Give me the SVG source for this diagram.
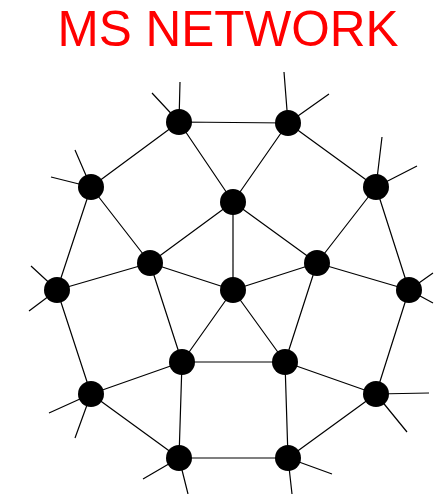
<svg xmlns="http://www.w3.org/2000/svg" width="435" height="494" viewBox="0 0 435 494">
<style>
.e{stroke:#000;stroke-width:1.2;fill:none}
.n{fill:#000}
.t{font-family:"Liberation Sans",Arial,sans-serif;font-size:49.5px;fill:#ff0000}
</style>
<rect width="435" height="494" fill="#fff"/>
<text class="t" x="228" y="46" text-anchor="middle">MS NETWORK</text>
<g id="connectors" class="e">
<path d="M179,122L288,123M179,122L91,187M179,122L233,202M288,123L233,202M288,123L376,187M91,187L150,263M91,187L57,290M150,263L233,202M150,263L57,290M150,263L233,290M150,263L182,362M233,202L233,290M233,202L317,263M376,187L317,263M376,187L409,290M317,263L233,290M317,263L409,290M317,263L285,362M233,290L182,362M233,290L285,362M57,290L91,394M91,394L182,362M91,394L179,458M182,362L179,458M182,362L285,362M179,458L288,458M285,362L288,458M285,362L376,394M409,290L376,394M376,394L288,458"/>
<path d="M179,122L180,82M179,122L152,93M288,123L284,72M288,123L329,94M376,187L382,137M376,187L417,166M409,290L433,273M409,290L433,303M376,394L429,393M376,394L407,432M288,458L332,474M288,458L292,494M179,458L143,479M179,458L188,494M91,394L49,413M91,394L75,438M57,290L31,266M57,290L29,311M91,187L75,150M91,187L51,177"/>
</g>
<g id="A"><circle class="n" cx="179" cy="122" r="13"/></g>
<g id="E"><circle class="n" cx="288" cy="123" r="13"/></g>
<g id="B"><circle class="n" cx="91" cy="187" r="13"/></g>
<g id="F"><circle class="n" cx="233" cy="202" r="13"/></g>
<g id="G"><circle class="n" cx="376" cy="187" r="13"/></g>
<g id="C"><circle class="n" cx="150" cy="263" r="13"/></g>
<g id="H"><circle class="n" cx="317" cy="263" r="13"/></g>
<g id="D"><circle class="n" cx="57" cy="290" r="13"/></g>
<g id="I"><circle class="n" cx="233" cy="290" r="13"/></g>
<g id="J"><circle class="n" cx="409" cy="290" r="13"/></g>
<g id="L"><circle class="n" cx="182" cy="362" r="13"/></g>
<g id="N"><circle class="n" cx="285" cy="362" r="13"/></g>
<g id="K"><circle class="n" cx="91" cy="394" r="13"/></g>
<g id="O"><circle class="n" cx="376" cy="394" r="13"/></g>
<g id="M"><circle class="n" cx="179" cy="458" r="13"/></g>
<g id="P"><circle class="n" cx="288" cy="458" r="13"/></g>
</svg>
